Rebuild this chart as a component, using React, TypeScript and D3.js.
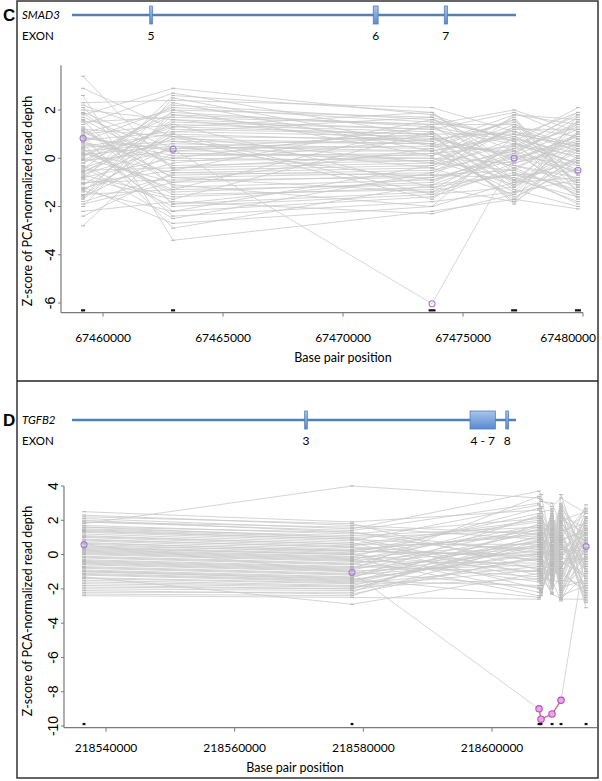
import React from "react"
import * as d3 from "d3"

const W = 602
const H = 781

// ---- panel C : SMAD3 ----
const smadTicksX = [67460000, 67465000, 67470000, 67475000, 67480000]
const smadTicksY = [-6, -4, -2, 0, 2]
const smadExtentX = [67458250, 67480000]
const smadExtentY = [-6.4, 3.85]
const smadCols = [67459170, 67462920, 67473710, 67477130, 67479790]
const smadMarkLen = [170, 170, 290, 250, 250]
const smadExons = ["5", "6", "7"]
const smadExonPos = [0.178, 0.684, 0.842]
const smadExonSize = [0.006, 0.011, 0.007]
const smadOutlier = [0.83, 0.37, -6.03, 0.0, -0.5]
const smadSamples = [
  [3.4, -0.5, -0.3, 0.6, -0.2],
  [2.9, 1.2, 1.0, -0.4, 0.8],
  [2.3, 2.4, 2.1, 1.1, 0.3],
  [2.1, -1.2, -0.9, 0.2, 1.5],
  [1.9, 0.4, 0.5, 1.6, -0.7],
  [1.8, 2.9, 1.8, 0.7, 2.1],
  [1.6, -0.3, -0.1, -1.1, 0.4],
  [1.5, 1.7, 1.4, 2.0, 1.1],
  [1.3, -1.9, -1.4, -0.6, -1.3],
  [1.2, 0.9, 0.8, 0.1, -0.3],
  [1.1, -0.8, -0.6, 1.3, 0.9],
  [1.0, 1.4, 1.1, -0.9, -1.6],
  [0.9, 0.1, 0.2, 0.5, 1.8],
  [0.8, -2.4, -1.8, -1.4, -0.9],
  [0.7, 2.1, 1.5, 0.9, 0.0],
  [0.6, -0.1, 0.0, -0.2, 0.6],
  [0.5, 1.0, 0.7, 1.5, -1.1],
  [0.4, -1.4, -1.0, 0.4, 1.3],
  [0.3, 0.6, 0.4, -1.6, -0.4],
  [0.2, -0.6, -0.4, 0.8, 0.2],
  [0.1, 1.9, 1.3, -0.1, 1.0],
  [0.0, -1.0, -0.7, -0.8, -1.8],
  [-0.1, 0.3, 0.3, 1.0, 0.5],
  [-0.2, 2.2, 1.6, 0.3, -0.6],
  [-0.3, -2.0, -1.5, -1.2, 0.7],
  [-0.4, 0.8, 0.6, 1.8, 1.6],
  [-0.5, -0.4, -0.2, -0.5, -1.4],
  [-0.6, 1.5, 1.2, 0.6, 0.1],
  [-0.7, -1.6, -1.2, -1.8, -0.1],
  [-0.8, 0.0, -0.1, 1.2, 1.2],
  [-0.9, 2.6, 1.9, -0.3, -1.0],
  [-1.0, -0.9, -0.8, 0.0, 0.9],
  [-1.1, 1.1, 0.9, -1.3, -2.0],
  [-1.2, -2.7, -2.0, -1.0, -0.8],
  [-1.3, 0.5, 0.3, 0.9, 1.9],
  [-1.4, 1.8, 1.4, 1.4, 0.4],
  [-1.5, -1.3, -1.1, -0.7, -0.5],
  [-1.6, 0.2, 0.1, 1.7, -1.2],
  [-1.7, 1.3, 1.0, -1.9, 0.6],
  [-1.8, -0.7, -0.5, 0.3, 1.4],
  [-2.0, 2.0, 1.7, 0.7, -1.7],
  [-2.2, -1.8, -2.3, -1.5, 0.0],
  [-2.8, 0.7, 0.6, 0.2, 1.7],
  [2.6, -3.4, -2.2, -1.7, -2.1],
  [0.35, -1.5, -1.3, 0.5, -0.9],
  [1.7, 0.2, 0.0, -0.9, 1.1],
  [-0.75, 1.6, 1.2, 1.9, 0.8],
  [0.55, -2.2, -1.6, -0.4, -1.5],
  [2.2, 0.9, -0.2, 1.2, -1.0],
  [1.4, 2.7, 0.9, -1.2, 0.3],
  [0.95, -2.9, -1.1, 0.1, 1.2],
  [-0.05, 1.3, 1.9, -0.6, -1.9],
  [-1.25, -0.2, 0.8, 1.1, 0.6],
  [-0.45, 2.3, 0.3, -1.4, 1.5],
  [1.25, -1.1, -2.0, 0.9, -0.3],
  [0.15, 0.5, -0.9, -0.1, 0.9],
  [-1.9, -1.0, 0.4, 1.6, -1.2],
  [2.0, 1.6, 0.6, -1.7, 0.1],
  [-0.35, -2.5, -0.6, 0.4, 1.9],
  [0.65, 0.0, 1.3, 0.7, -0.7],
  [-1.55, 1.0, -1.5, -0.2, 0.4],
  [1.05, 2.0, 0.1, 1.4, -1.4],
  [-0.85, -1.7, 1.1, -1.0, 0.0],
  [0.45, 0.7, -0.4, -1.5, 1.1],
  [-1.05, -0.5, 1.6, 0.8, -0.5],
  [1.55, -1.9, -0.8, 1.8, 1.4],
  [-0.2, 1.4, -1.2, -0.7, -1.1],
  [0.85, 0.3, 0.9, 0.0, 0.7],
  [-1.65, 2.5, 0.5, 0.3, -1.6],
  [0.25, -1.3, 1.4, -1.1, 1.6],
  [-0.55, 0.9, -1.7, 0.6, -0.2],
  [1.85, -0.4, 0.2, -0.3, -0.8],
  [-1.35, -2.2, -0.3, 1.3, 0.3],
  [0.05, 1.8, 0.7, -1.8, 1.8],
  [1.15, -0.8, -1.4, 0.2, -1.3],
  [-0.65, 0.4, 1.0, 1.0, 0.5],
  [-2.4, -0.6, -0.7, -0.5, 1.0],
  [0.75, 1.1, 1.7, -0.9, -0.1],
]

// ---- panel D : TGFB2 ----
const tgfTicksX = [218540000, 218560000, 218580000, 218600000]
const tgfTicksY = [-10, -8, -6, -4, -2, 0, 2, 4]
const tgfExtentX = [218533470, 218616330]
const tgfExtentY = [-10.1, 4.0]
const tgfCols = [218536580, 218578240, 218607310, 218607620, 218609330, 218610730, 218614620]
const tgfMarkLen = [450, 450, 450, 450, 450, 450, 450]
const tgfExons = ["3", "4 - 7", "8"]
const tgfExonPos = [0.527, 0.925, 0.98]
const tgfExonSize = [0.006, 0.057, 0.006]
const tgfOutlier = [0.58, -1.05, -9.0, -9.6, -9.3, -8.5, 0.47]
const tgfFlagged = [false, false, true, true, true, true, false]
const tgfSamples = [
  [2.5, 1.9, 2.6, 2.4, -0.5, 3.5, -1.0],
  [2.3, 1.7, 1.2, 1.0, 1.8, -1.2, 2.2],
  [2.1, 1.5, 3.7, 3.5, 0.4, 0.8, -2.0],
  [2.0, 1.3, -0.4, -0.6, 2.7, -2.5, 1.5],
  [1.9, 1.6, 0.9, 0.7, -1.4, 2.4, 0.3],
  [1.7, 1.2, 2.1, 1.9, 0.2, 1.1, -2.8],
  [1.6, 1.0, -1.2, -1.4, 1.2, -0.3, 2.9],
  [1.5, 1.1, 1.6, 1.4, -0.9, 1.9, -0.5],
  [1.4, 0.9, 0.3, 0.1, 2.0, -1.8, 1.0],
  [1.3, 0.8, 2.9, 2.7, 0.8, 0.2, -1.4],
  [1.2, 0.7, -2.0, -2.2, -0.2, 3.0, 0.6],
  [1.1, 0.6, 0.6, 0.4, 1.5, -0.9, -2.3],
  [1.0, 0.5, 1.9, 1.7, -1.8, 1.4, 1.8],
  [0.9, 0.4, -0.8, -1.0, 0.6, -2.1, 0.0],
  [0.8, 0.3, 1.1, 0.9, 2.3, 0.5, -0.8],
  [0.7, 0.2, -0.1, -0.3, -0.7, 2.0, 2.5],
  [0.6, 0.1, 2.4, 2.2, 1.0, -1.5, -1.7],
  [0.5, 0.2, 0.0, -0.2, -1.1, 0.9, 1.3],
  [0.4, 0.0, 1.4, 1.2, 1.6, -0.6, -0.2],
  [0.3, -0.1, -1.6, -1.8, -0.4, 2.7, 0.9],
  [0.2, -0.2, 0.7, 0.5, 2.5, -2.6, -1.1],
  [0.1, -0.3, 1.7, 1.5, -1.6, 0.0, 2.0],
  [0.0, -0.4, -0.5, -0.7, 0.9, 1.6, -3.1],
  [-0.1, -0.5, 0.4, 0.2, -0.1, -1.0, 0.4],
  [-0.2, -0.6, 2.2, 2.0, 1.3, 0.6, -0.6],
  [-0.3, -0.7, -1.0, -1.2, -2.2, 2.2, 1.6],
  [-0.4, -0.8, 0.2, 0.0, 0.3, -1.9, -1.5],
  [-0.5, -0.9, 1.3, 1.1, 1.9, 1.2, 2.4],
  [-0.6, -1.0, -1.9, -2.1, -0.8, -0.2, -0.3],
  [-0.7, -1.1, 0.8, 0.6, 0.7, 2.6, -2.5],
  [-0.8, -1.2, -0.3, -0.5, -1.3, -0.7, 1.1],
  [-0.9, -1.3, 1.0, 0.8, 2.1, 0.4, -0.9],
  [-1.0, -1.4, -2.5, -2.3, 0.1, 1.8, 0.7],
  [-1.1, -1.5, 0.1, -0.1, -1.9, -1.4, 1.9],
  [-1.2, -1.6, 1.5, 1.3, 1.1, 0.7, -1.9],
  [-1.4, -1.7, -0.7, -0.9, -0.6, 2.3, 0.2],
  [-1.5, -1.8, 0.5, 0.3, 1.7, -2.2, -0.4],
  [-1.7, -1.9, -1.4, -1.6, -1.0, 1.0, 2.7],
  [-1.9, -2.0, 0.9, 0.7, 0.5, -0.4, -1.3],
  [-2.0, -2.1, -0.2, -0.4, -2.3, 1.5, 0.8],
  [-2.2, -2.2, 1.8, 1.6, 1.4, -1.1, -2.1],
  [-2.4, -2.5, -2.6, -2.4, 0.0, 0.3, 1.2],
  [1.8, 4.0, 3.3, 3.1, 3.0, 1.7, -0.7],
  [-1.3, -2.9, -1.1, -1.3, -1.5, -2.7, 0.5],
  [2.2, 1.8, -0.9, -1.1, 1.0, 2.8, -1.6],
  [1.9, 1.4, 3.0, 2.8, -1.2, -0.8, 1.4],
  [1.6, 1.3, 0.1, -0.1, 2.2, 1.3, -2.7],
  [1.35, 0.9, -1.5, -1.7, 0.5, -2.3, 2.1],
  [1.05, 0.6, 2.0, 1.8, -0.3, 0.1, 0.8],
  [0.85, 0.45, -0.3, -0.5, 1.4, 2.9, -0.1],
  [0.65, 0.25, 1.2, 1.0, -1.5, -1.6, 1.7],
  [0.45, 0.05, -2.2, -2.0, 0.8, 0.6, -2.2],
  [0.25, -0.15, 2.7, 2.5, 2.6, -0.5, 0.1],
  [0.05, -0.35, 0.5, 0.3, -0.9, 1.7, -1.0],
  [-0.15, -0.55, -1.3, -1.5, 0.4, -1.3, 2.6],
  [-0.35, -0.75, 1.6, 1.4, 1.7, 0.9, -0.4],
  [-0.55, -0.95, -0.6, -0.8, -1.7, 2.1, 1.2],
  [-0.75, -1.15, 0.3, 0.1, 0.2, -2.4, -1.8],
  [-0.95, -1.35, 2.3, 2.1, 1.0, 0.0, 0.6],
  [-1.15, -1.55, -1.8, -2.0, -0.5, 1.1, -0.7],
  [-1.35, -1.65, 0.6, 0.4, 2.4, -0.8, 2.2],
  [-1.6, -1.85, -0.9, -1.1, -1.2, 2.5, -2.4],
  [-1.8, -2.0, 1.1, 0.9, 0.6, -1.7, 0.4],
  [-2.1, -2.3, -0.1, -0.3, -2.0, 0.8, 1.5],
  [-2.3, -2.4, 0.8, 0.6, 1.2, -0.1, -1.2],
  [1.45, 1.0, 1.4, 1.2, 0.0, -2.0, 0.9],
  [0.15, -0.25, -2.4, -2.2, -0.6, 1.9, -0.2],
  [-0.45, -0.85, 3.4, 3.2, 2.8, 3.3, 2.4],
  [0.35, 0.0, -1.0, -1.2, -2.3, -2.6, -2.6],
  [-1.0, -1.45, 0.0, -0.2, 1.5, 0.3, 0.2],
]

const calibri = "Lato, 'Open Sans', sans-serif"
const rFont = "'Liberation Sans', Arial, sans-serif"
const blue = "#4f81bd"

function Panel({ top, letter, gene, exons, exonPos, exonSize, ticksX, ticksY, extentX, extentY,
  cols, markLen, samples, outlier, flagged, markY, xRange, yRange, yMid, tickDy, titleDy, labelMaxX }: any) {
  const x = d3.scaleLinear().domain([ticksX[0], ticksX[ticksX.length - 1]]).range(xRange)
  const y = d3.scaleLinear().domain([ticksY[0], ticksY[ticksY.length - 1]]).range(yRange)
  const g = d3.scaleLinear().domain([0, 1]).range([72, 516])
  const line = d3.line<number>().x((_, i) => x(cols[i])).y((d) => y(d))
  const axX = x(extentX[0])
  const axY = y(extentY[0])
  const geneY = top + 15
  const flaggedIdx = outlier.map((_: number, i: number) => i).filter((i: number) => flagged[i])

  return (
    <g>
      <text x={3} y={top + 21} fontFamily={rFont} fontWeight="bold" fontSize={17}>{letter}</text>
      <text x={22} y={top + 19} fontFamily={calibri} fontStyle="italic" fontSize={11.5}>{gene}</text>
      <text x={22} y={top + 40} fontFamily={calibri} fontSize={11.5}>EXON</text>
      <line x1={g(0)} x2={g(1)} y1={geneY} y2={geneY} stroke={blue} strokeWidth={2.5} />
      {exonPos.map((p: number, i: number) => (
        <g key={i}>
          <rect x={g(p) - ((g(exonSize[i]) - g(0)) / 2)} y={geneY - 9}
            width={g(exonSize[i]) - g(0)} height={18} fill="url(#exonFill)" stroke={blue} strokeWidth={0.8} />
          <text x={g(p)} y={geneY + 25} textAnchor="middle" fontFamily={calibri} fontSize={12}>{exons[i]}</text>
        </g>
      ))}

      {/* samples */}
      {samples.map((s: number[], i: number) => (
        <path key={i} d={line(s) || ""} fill="none" stroke="#c9c9c9" strokeWidth={0.8} />
      ))}
      <path d={line(outlier) || ""} fill="none" stroke="#cdcdcd" strokeWidth={0.8} />
      {samples.map((s: number[], i: number) =>
        s.map((v, j) => (
          <line key={i + "-" + j} x1={x(cols[j]) - 2} x2={x(cols[j]) + 2} y1={y(v)} y2={y(v)}
            stroke="#b5b5b5" strokeWidth={1} />
        ))
      )}
      {flaggedIdx.length > 1 && (
        <path d={d3.line<number>().x((i) => x(cols[i])).y((i) => y(outlier[i]))(flaggedIdx) || ""}
          fill="none" stroke="#e0607a" strokeWidth={1.3} />
      )}
      {outlier.map((v: number, j: number) => (
        <circle key={j} cx={x(cols[j])} cy={y(v)} r={flagged[j] ? 3.2 : 3}
          fill={flagged[j] ? "#eba6e6" : "none"} stroke={flagged[j] ? "#b04fc0" : "#a77be0"} strokeWidth={1.1} />
      ))}
      {cols.map((c: number, j: number) => (
        <rect key={j} x={x(c - markLen[j] / 2)} y={y(markY) - 1} width={x(c + markLen[j] / 2) - x(c - markLen[j] / 2)}
          height={2.2} fill="#111" />
      ))}

      {/* axes */}
      <line x1={axX} x2={axX} y1={y(extentY[0])} y2={y(extentY[1])} stroke="#7a7a7a" strokeWidth={1.2} />
      <line x1={axX} x2={x(extentX[1])} y1={axY} y2={axY} stroke="#7a7a7a" strokeWidth={1.2} />
      {ticksY.map((t: number) => (
        <g key={t}>
          <line x1={axX - 3} x2={axX} y1={y(t)} y2={y(t)} stroke="#7a7a7a" />
          <text transform={`translate(${axX - 6},${y(t)}) rotate(-90)`} textAnchor="middle"
            fontFamily={rFont} fontSize={14}>{t}</text>
        </g>
      ))}
      {ticksX.map((t: number, i: number) => {
        const last = i === ticksX.length - 1 && labelMaxX
        return (
          <g key={t}>
            <line x1={x(t)} x2={x(t)} y1={axY} y2={axY + 4} stroke="#7a7a7a" />
            <text x={last ? labelMaxX : x(t)} y={axY + tickDy} textAnchor={last ? "end" : "middle"}
              fontFamily={calibri} fontSize={12}>{t}</text>
          </g>
        )
      })}
      <text x={(x(ticksX[0]) + x(ticksX[ticksX.length - 1])) / 2 - (top > 0 ? 4 : 0)} y={axY + titleDy}
        textAnchor="middle" fontFamily={calibri} fontSize={12.5}>Base pair position</text>
      <text transform={`translate(32,${yMid}) rotate(-90)`} textAnchor="middle" fontFamily={calibri}
        fontSize={12.5}>Z-score of PCA-normalized read depth</text>
    </g>
  )
}

export default function App() {
  return (
    <div style={{ position: "fixed", left: 0, top: 0 }}>
      <svg width={W} height={H} style={{ display: "block", background: "#fff" }}>
        <defs>
          <linearGradient id="exonFill" x1="0" y1="0" x2="0" y2="1">
            <stop offset="0%" stopColor="#a9c4ec" />
            <stop offset="100%" stopColor="#5a8ad0" />
          </linearGradient>
        </defs>
        <rect x={17} y={1} width={581} height={777} fill="none" stroke="#333" strokeWidth={1.5} />
        <line x1={17} x2={598} y1={381} y2={381} stroke="#222" strokeWidth={1.5} />
        <Panel top={0} letter="C" gene="SMAD3" exons={smadExons} exonPos={smadExonPos} exonSize={smadExonSize}
          ticksX={smadTicksX} ticksY={smadTicksY} extentX={smadExtentX} extentY={smadExtentY}
          cols={smadCols} markLen={smadMarkLen} samples={smadSamples} outlier={smadOutlier}
          flagged={smadOutlier.map(() => false)} markY={-6.3} xRange={[103, 583]} yRange={[303, 110]} yMid={201}
          tickDy={29} titleDy={49} labelMaxX={596} />
        <Panel top={405} letter="D" gene="TGFB2" exons={tgfExons} exonPos={tgfExonPos} exonSize={tgfExonSize}
          ticksX={tgfTicksX} ticksY={tgfTicksY} extentX={tgfExtentX} extentY={tgfExtentY}
          cols={tgfCols} markLen={tgfMarkLen} samples={tgfSamples} outlier={tgfOutlier}
          flagged={tgfFlagged} markY={-9.88} xRange={[106, 492]} yRange={[726, 486]} yMid={611}
          tickDy={24} titleDy={44} labelMaxX={0} />
      </svg>
    </div>
  )
}
